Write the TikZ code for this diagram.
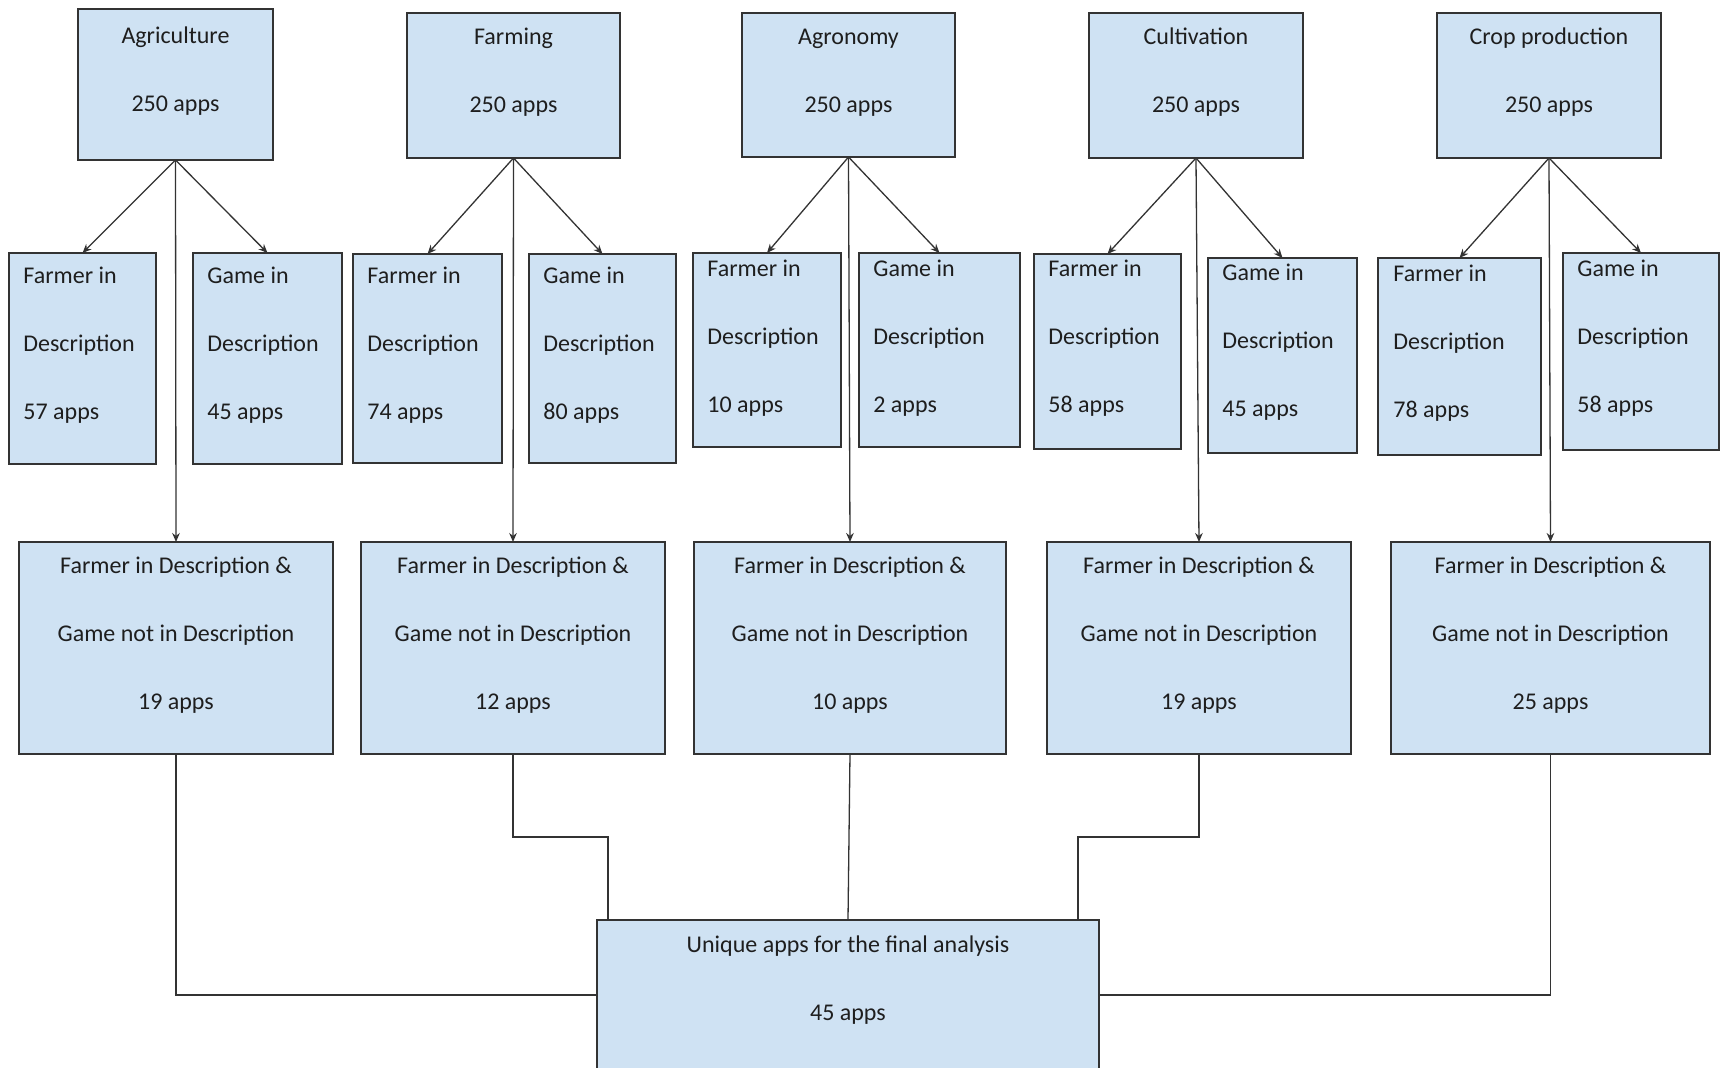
\documentclass[tikz,border=0pt]{standalone}
\usepackage{fontspec}
\setmainfont{Carlito}
\usetikzlibrary{arrows.meta}
\definecolor{cellfill}{HTML}{CFE2F3}
\definecolor{ink}{HTML}{333333}
\definecolor{txt}{HTML}{1E1E1E}
% box from pixel corners: name, x1, y1, x2, y2
\newcommand\mkcell[5]{%
  \node[cell, minimum width={(#4-#2)*0.5pt}, minimum height={(#5-#3)*0.5pt}]
    (#1) at ({(#2+#4)/2},{(#3+#5)/2}) {};}
\begin{document}
\begin{tikzpicture}[x=0.5pt, y=-0.5pt,
  cell/.style={draw=ink, fill=cellfill, line width=0.9pt, inner sep=0pt, outer sep=0pt},
  lbl/.style={text=txt, inner sep=0pt, font=\fontsize{12pt}{34pt}\selectfont},
  ctr/.style={lbl, align=center, anchor=base},
  lft/.style={lbl, align=left, anchor=base west},
  link/.style={draw=ink, line width=0.65pt},
  arr/.style={link, -{Stealth[length=4.5pt, width=3.8pt]}}]
\fill[white] (0,0) rectangle (1721,1068);
\useasboundingbox (0,0) rectangle (1721,1068);

% search terms
\mkcell{t1}{78}{9}{273}{160}
\mkcell{t2}{407}{13}{620}{158}
\mkcell{t3}{742}{13}{955}{157}
\mkcell{t4}{1089}{13}{1303}{158}
\mkcell{t5}{1437}{13}{1661}{158}
\node[ctr] (t1l) at (175.5,112) {Agriculture\\250 apps};
\node[ctr] (t2l) at (513.5,113) {Farming\\250 apps};
\node[ctr] (t3l) at (848.5,113) {Agronomy\\250 apps};
\node[ctr] (t4l) at (1196,113) {Cultivation\\250 apps};
\node[ctr] (t5l) at (1549,113) {Crop production\\250 apps};

% keyword filters
\mkcell{f1}{9}{253}{156}{464}
\mkcell{g1}{193}{253}{342}{464}
\mkcell{f2}{353}{254}{502}{463}
\mkcell{g2}{529}{254}{676}{463}
\mkcell{f3}{693}{253}{841}{447}
\mkcell{g3}{859}{253}{1020}{447}
\mkcell{f4}{1034}{254}{1181}{449}
\mkcell{g4}{1208}{258}{1357}{453}
\mkcell{f5}{1378}{258}{1541}{455}
\mkcell{g5}{1563}{253}{1719}{450}
\node[lft] (f1l) at (23,420) {Farmer in\\Description\\57 apps};
\node[lft] (g1l) at (207,420) {Game in\\Description\\45 apps};
\node[lft] (f2l) at (367,420) {Farmer in\\Description\\74 apps};
\node[lft] (g2l) at (543,420) {Game in\\Description\\80 apps};
\node[lft] (f3l) at (707,413) {Farmer in\\Description\\10 apps};
\node[lft] (g3l) at (873,413) {Game in\\Description\\2 apps};
\node[lft] (f4l) at (1048,413) {Farmer in\\Description\\58 apps};
\node[lft] (g4l) at (1222,417) {Game in\\Description\\45 apps};
\node[lft] (f5l) at (1393,418) {Farmer in\\Description\\78 apps};
\node[lft] (g5l) at (1577,413) {Game in\\Description\\58 apps};

% combined filter
\mkcell{b1}{19}{542}{333}{754}
\mkcell{b2}{361}{542}{665}{754}
\mkcell{b3}{694}{542}{1006}{754}
\mkcell{b4}{1047}{542}{1351}{754}
\mkcell{b5}{1391}{542}{1710}{754}
\node[ctr] (b1l) at (176,710) {Farmer in Description \&\\Game not in Description\\19 apps};
\node[ctr] (b2l) at (513,710) {Farmer in Description \&\\Game not in Description\\12 apps};
\node[ctr] (b3l) at (850,710) {Farmer in Description \&\\Game not in Description\\10 apps};
\node[ctr] (b4l) at (1199,710) {Farmer in Description \&\\Game not in Description\\19 apps};
\node[ctr] (b5l) at (1550.5,710) {Farmer in Description \&\\Game not in Description\\25 apps};

% final set
\mkcell{fin}{597}{920}{1099}{1070}
\node[ctr] (finl) at (848,1021) {Unique apps for the final analysis\\45 apps};

% connectors from each search term
\foreach \i in {1,...,5}{
  \draw[arr] (t\i.south) -- (f\i.north);
  \draw[arr] (t\i.south) -- (g\i.north);
  \draw[arr] (t\i.south) -- (b\i.north);
}

% merging into the final set
\coordinate (j2) at (608,837);
\coordinate (j4) at (1078,837);
\draw[link] (b1.south) |- (fin.west);
\draw[link] (b2.south) |- (j2) -- (j2 |- fin.north);
\draw[link] (b3.south) -- (fin.north);
\draw[link] (b4.south) |- (j4) -- (j4 |- fin.north);
\draw[link] (b5.south) |- (fin.east);
\end{tikzpicture}
\end{document}
